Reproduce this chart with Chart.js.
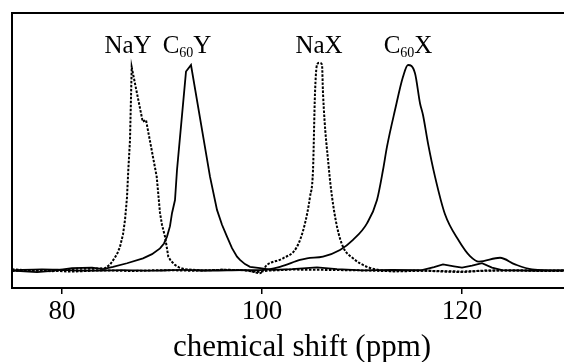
<!DOCTYPE html>
<html>
<head>
<meta charset="utf-8">
<script src="https://cdn.jsdelivr.net/npm/chart.js@4"></script>
<style>
  html, body { margin: 0; padding: 0; overflow: hidden; background: #fff; }
  #wrap { width: 592px; height: 362px; }
</style>
</head>
<body>
<div id="wrap"><canvas id="nmr" width="592" height="362"></canvas></div>
<script>
// ── Spectra (shift in ppm, intensity in arbitrary units) ──
const nayX = [75, 77, 79, 80.5, 81.5, 83, 84.3, 84.8, 85.13, 85.5, 85.8, 86.1, 86.3, 86.5, 86.63, 86.8, 86.97, 88.07, 88.4, 89.47, 89.8, 90.0, 90.3, 90.63, 90.9, 91.3, 91.7, 92.3, 94, 96, 98, 99.5, 100.5, 103, 106, 110, 113, 116, 120, 124, 128, 133];
const nayY = [6.8, 6.3, 6.1, 6.6, 7.0, 7.0, 7.2, 8.5, 10.2, 12.3, 15.0, 19.5, 24.7, 33, 42.9, 53.8, 80.3, 60.5, 61.1, 40.5, 27.3, 23, 18.7, 11.4, 9.8, 8.4, 7.5, 6.8, 6.4, 6.6, 6.5, 5.8, 6.3, 6.7, 6.6, 6.4, 6.1, 6.3, 6.0, 6.4, 6.3, 6.4];

const c60yX = [75, 77.5, 79, 81, 83, 84.1, 85.1, 86.5, 88.1, 89.0, 89.8, 90.2, 90.5, 90.8, 91.0, 91.3, 91.5, 92.4, 92.9, 94.8, 95.5, 96.0, 96.5, 97.0, 97.5, 97.8, 98.3, 98.8, 99.8, 101, 103, 105.5, 107.5, 110, 113, 116, 117.2, 118.1, 119.2, 120, 121, 122, 123, 124, 127, 133];
const c60yY = [6.3, 5.8, 6.2, 7.2, 7.4, 6.9, 7.7, 9.0, 10.8, 12.3, 14.4, 16.2, 18.7, 22.5, 27.2, 32.0, 42.9, 78.7, 81.1, 40.5, 28.4, 23, 18.7, 14.5, 11.4, 10.2, 8.7, 7.7, 7.2, 6.6, 6.9, 7.5, 6.9, 6.4, 6.6, 6.5, 7.6, 8.6, 7.9, 7.4, 8.1, 9.0, 7.4, 6.5, 6.3, 6.4];

const naxX = [75, 78, 81, 84, 87, 90, 93, 96, 98.5, 99.8, 100.5, 102.1, 103.5, 104.3, 104.8, 105.1, 105.3, 105.5, 105.75, 106.0, 106.1, 106.7, 107.0, 107.5, 108.1, 109.1, 110.5, 111.8, 114, 116, 118, 120, 122, 125, 128, 133];
const naxY = [6.2, 6.5, 6.0, 6.4, 6.2, 6.5, 6.3, 6.6, 6.4, 5.4, 8.4, 10.8, 15.0, 23.5, 33.2, 42.9, 70.8, 81.2, 81.9, 81.2, 70.8, 42.9, 33.2, 22.3, 15.0, 10.8, 7.7, 6.5, 6.1, 6.3, 6.0, 5.8, 6.3, 6.4, 6.2, 6.3];

const c60xX = [75, 78, 80.5, 83, 86, 89, 92, 95, 98, 99.8, 101.8, 103.8, 104.5, 106.1, 107.8, 109.1, 110.5, 111.5, 112.1, 112.5, 113.3, 114.1, 114.6, 115.3, 115.8, 116.1, 116.6, 117.3, 118.3, 119.7, 120.8, 121.7, 123.8, 125.3, 127.0, 130, 133];
const c60xY = [6.4, 6.8, 6.5, 6.3, 6.5, 6.3, 6.6, 6.3, 6.5, 6.5, 7.7, 10.2, 10.8, 11.4, 13.8, 17.5, 23.5, 32.0, 42.9, 51.4, 64.7, 76.8, 81.1, 78.1, 67.2, 62.9, 52.6, 40.5, 26.8, 17.1, 11.6, 9.6, 11.0, 8.6, 6.8, 6.4, 6.5];

const tickVals   = [80, 100, 120];
const labelParts = [['Na', '', 'Y'], ['C', '60', 'Y'], ['Na', '', 'X'], ['C', '60', 'X']];
const labelPpm   = [86.6, 92.5, 105.7, 114.6];
const labelLevel = 85.6;

const toPts = (xs, ys) => xs.map((x, i) => ({ x, y: ys[i] }));

// frame line along the top of the plot
const topLine = {
  id: 'topLine',
  afterDraw(chart) {
    const { ctx, chartArea: { left, right, top } } = chart;
    ctx.save();
    ctx.strokeStyle = '#000';
    ctx.lineWidth = 2;
    ctx.beginPath();
    ctx.moveTo(left - 1, top);
    ctx.lineTo(right, top);
    ctx.stroke();
    ctx.restore();
  }
};

// peak names with subscripts
const peakLabels = {
  id: 'peakLabels',
  afterDatasetsDraw(chart) {
    const { ctx, scales: { x, y } } = chart;
    const big = '25px "Liberation Serif", serif';
    const small = '14px "Liberation Serif", serif';
    ctx.save();
    ctx.fillStyle = '#000';
    ctx.textBaseline = 'alphabetic';
    labelParts.forEach((p, i) => {
      ctx.font = big;
      const w1 = ctx.measureText(p[0]).width, w3 = ctx.measureText(p[2]).width;
      ctx.font = small;
      const w2 = ctx.measureText(p[1]).width;
      let px = x.getPixelForValue(labelPpm[i]) - (w1 + w2 + w3) / 2;
      const py = y.getPixelForValue(labelLevel);
      ctx.font = big;   ctx.fillText(p[0], px, py); px += w1;
      ctx.font = small; ctx.fillText(p[1], px, py + 4); px += w2;
      ctx.font = big;   ctx.fillText(p[2], px, py);
    });
    ctx.restore();
  }
};

const solid   = { borderColor: '#000', borderWidth: 1.8 };
const dotted  = { borderColor: '#000', borderWidth: 2, borderDash: [2.5, 1.5] };
const sharp   = { cubicInterpolationMode: 'default', tension: 0 };

new Chart(document.getElementById('nmr'), {
  type: 'line',
  data: {
    datasets: [
      { label: 'NaY',  data: toPts(nayX, nayY),   ...dotted, ...sharp },
      { label: 'C60Y', data: toPts(c60yX, c60yY), ...solid, ...sharp },
      { label: 'NaX',  data: toPts(naxX, naxY),   ...dotted },
      { label: 'C60X', data: toPts(c60xX, c60xY), ...solid }
    ]
  },
  options: {
    responsive: false,
    animation: false,
    devicePixelRatio: 1,
    layout: { padding: { left: 12, top: 13, right: 0, bottom: 0 } },
    elements: {
      point: { radius: 0 },
      line: { cubicInterpolationMode: 'monotone', fill: false }
    },
    plugins: { legend: { display: false }, tooltip: { enabled: false } },
    scales: {
      x: {
        type: 'linear',
        min: 75,
        max: 133,
        afterBuildTicks: s => { s.ticks = tickVals.map(v => ({ value: v })); },
        afterFit: s => { s.height = 74; },
        ticks: { font: { family: 'Liberation Serif', size: 27 }, color: '#000', padding: 2, maxRotation: 0 },
        grid: { drawOnChartArea: false, tickLength: 6, color: '#000', lineWidth: 1.5 },
        border: { color: '#000', width: 2 },
        title: {
          display: true,
          text: 'chemical shift (ppm)',
          font: { family: 'Liberation Serif', size: 31 },
          color: '#000',
          padding: { top: 0, bottom: -4 }
        }
      },
      y: {
        min: 0,
        max: 100,
        afterFit: s => { s.width = 0; },
        ticks: { display: false },
        grid: { display: false },
        border: { color: '#000', width: 2 }
      }
    }
  },
  plugins: [topLine, peakLabels]
});
</script>
</body>
</html>
